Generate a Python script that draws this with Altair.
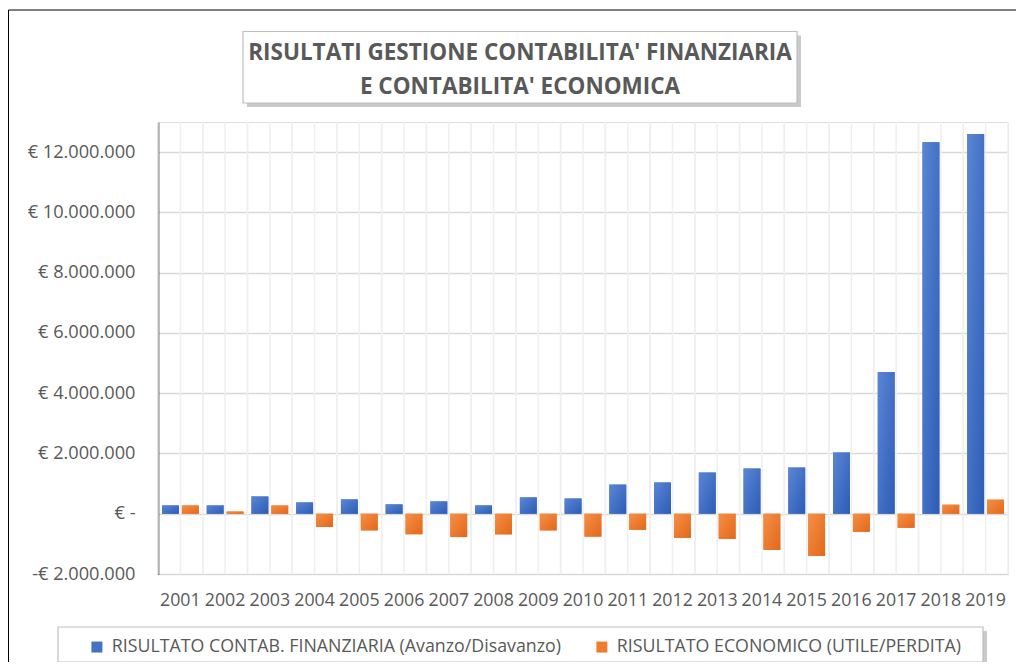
import altair as alt
import pandas as pd

# ---------------- data ----------------
years = [str(y) for y in range(2001, 2020)]
series_names = [
    "RISULTATO CONTAB. FINANZIARIA (Avanzo/Disavanzo)",
    "RISULTATO ECONOMICO (UTILE/PERDITA)",
]
finanziaria = [275000, 275000, 575000, 375000, 475000, 310000, 409000, 276000,
               542000, 505000, 967000, 1033000, 1367000, 1500000, 1533000,
               2033000, 4700000, 12330000, 12600000]
economico = [275000, 75000, 275000, -440000, -553000, -685000, -774000, -685000,
             -553000, -760000, -533000, -800000, -833000, -1200000, -1400000,
             -600000, -467000, 300000, 467000]
y_ticks = [-2000000, 0, 2000000, 4000000, 6000000, 8000000, 10000000, 12000000]
y_domain = [-2000000, 13000000]
title_lines = ["RISULTATI GESTIONE CONTABILITA' FINANZIARIA", "E CONTABILITA' ECONOMICA"]
colors = ["#4472C4", "#ED7D31"]

rows = []
for yr, f, e in zip(years, finanziaria, economico):
    rows.append({"anno": yr, "serie": series_names[0], "valore": f})
    rows.append({"anno": yr, "serie": series_names[1], "valore": e})
df = pd.DataFrame(rows)
years_df = pd.DataFrame({"anno": years})
one = pd.DataFrame({"k": [0]})

TXT = "#595959"
AXFONT = "Open Sans"
FS = 17.8

x_axis = alt.Axis(title=None, labelAngle=0, domain=False, ticks=False, grid=False,
                  labelFont=AXFONT, labelFontSize=FS, labelColor=TXT, labelPadding=17)
x_scale = alt.Scale(domain=years, paddingInner=0, paddingOuter=0)

def xenc(bp=None):
    if bp is None:
        return alt.X("anno:N", sort=years, scale=x_scale, axis=x_axis)
    return alt.X("anno:N", sort=years, scale=x_scale, axis=x_axis, bandPosition=bp)

xoff = alt.XOffset("serie:N", sort=series_names,
                   scale=alt.Scale(domain=series_names, paddingInner=0.15, paddingOuter=0.2))

label_expr = ("datum.value == 0 ? '€ -' : (datum.value < 0 ? '-€ ' : '€ ') + "
              "replace(format(abs(datum.value), ',d'), regexp(',', 'g'), '.')")
y_enc = alt.Y("valore:Q",
              scale=alt.Scale(domain=y_domain, nice=False, zero=True),
              axis=alt.Axis(title=None, values=y_ticks, labelExpr=label_expr,
                            grid=True, gridColor="#d9d9d9", gridWidth=1.5,
                            domain=True, domainColor="#000000", domainWidth=1.5,
                            ticks=False, tickSize=0, labelPadding=23,
                            labelFont=AXFONT, labelFontSize=18.2, labelColor=TXT))

# vertical grid (category boundaries and centres)
vgrid = [
    alt.Chart(years_df).mark_rule(color="#efefef", strokeWidth=1.5).encode(x=xenc(bp))
    for bp in (0, 0.5, 1)
]

# base bars (solid, carry the legend)
bars = alt.Chart(df).mark_bar().encode(
    x=xenc(), xOffset=xoff, y=y_enc,
    color=alt.Color("serie:N", sort=series_names,
                    scale=alt.Scale(domain=series_names, range=colors),
                    legend=alt.Legend(orient="none", legendX=-70, legendY=516,
                                      direction="horizontal", title=None,
                                      symbolType="square", symbolSize=121,
                                      symbolStrokeWidth=0, labelFont=AXFONT,
                                      labelFontSize=FS, labelColor=TXT,
                                      columnPadding=32, labelOffset=6, padding=0,
                                      labelLimit=800)),
)

def grad(light, dark):
    return alt.Gradient(gradient="linear", x1=0, y1=0, x2=1, y2=1,
                        stops=[alt.GradientStop(color=light, offset=0),
                               alt.GradientStop(color=dark, offset=1)])

grad_bars = [
    alt.Chart(df).transform_filter(alt.datum.serie == s).mark_bar(fill=g).encode(
        x=xenc(), xOffset=xoff, y=y_enc)
    for s, g in zip(series_names,
                    [grad("#5b86d4", "#2c5cb6"), grad("#f58f47", "#e2681a")])
]

# decorations: outer frame, title box, legend box
frame = alt.Chart(one).mark_rect(fill=None, stroke="#000000", strokeWidth=1).encode(
    x=alt.value(-149.5), x2=alt.value(900), y=alt.value(-112), y2=alt.value(700))
title_shadow = alt.Chart(one).mark_rect(fill="#bdbdbd", opacity=0.8).encode(
    x=alt.value(89), x2=alt.value(643), y=alt.value(-86.5), y2=alt.value(-15))
title_box = alt.Chart(one).mark_rect(fill="white", stroke="#bfbfbf", strokeWidth=1.2).encode(
    x=alt.value(85), x2=alt.value(639), y=alt.value(-90.5), y2=alt.value(-19))
leg_shadow = alt.Chart(one).mark_rect(fill="#bdbdbd", opacity=0.8).encode(
    x=alt.value(-96), x2=alt.value(829), y=alt.value(509), y2=alt.value(544))
leg_box = alt.Chart(one).mark_rect(fill="white", stroke="#bfbfbf", strokeWidth=1.2).encode(
    x=alt.value(-100), x2=alt.value(825), y=alt.value(505), y2=alt.value(540))

chart = alt.layer(
    frame, title_shadow, title_box, leg_shadow, leg_box, *vgrid, bars, *grad_bars
).properties(
    width=850, height=452,
    padding={"left": 150, "top": 114, "right": 8, "bottom": 88},
    autosize=alt.AutoSizeParams(type="none"),
    title=alt.TitleParams(text=title_lines, font="Open Sans",
                          fontWeight="bold", fontSize=22.5, color=TXT,
                          anchor="middle", frame="group", dx=-63, offset=-89,
                          lineHeight=34),
).configure_view(stroke=None).configure(background="white")

chart.save("out.html", embed_options={"renderer": "svg", "actions": False})
